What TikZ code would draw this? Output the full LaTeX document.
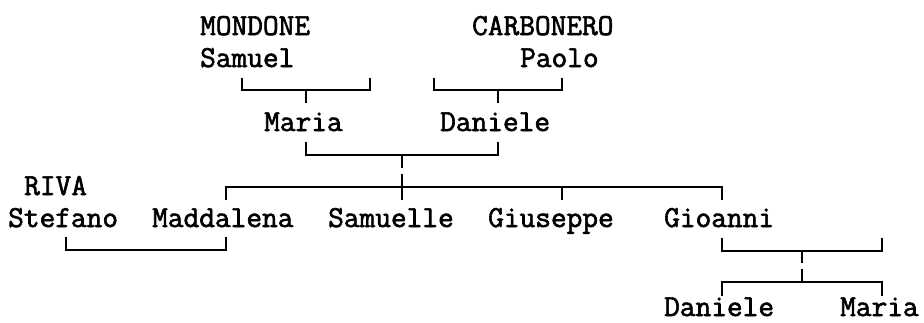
\documentclass[tikz,border=0pt]{standalone}
\usepackage{fontspec}
\newfontfamily\monobold[FakeBold=2]{Latin Modern Mono}
\begin{document}
\begin{tikzpicture}[x=1pt,y=-1pt,
  nm/.style={inner sep=0pt,anchor=base west,font=\fontsize{30.48}{32}\selectfont\monobold},
  ln/.style={line width=1.8pt,line cap=butt,line join=miter}]
\useasboundingbox[fill=white] (0,0) rectangle (924,322);
% column k -> x = 8+16k ; row r -> baseline 35+32r
\node[nm] (mondone) at (200,35) {MONDONE};
\node[nm] (samuel) at (200,67) {Samuel};
\node[nm] (carbonero) at (472,35) {CARBONERO};
\node[nm] (paolo) at (520,67) {Paolo};
\node[nm] (maria) at (264,131) {Maria};
\node[nm] (daniele) at (440,131) {Daniele};
\node[nm] (riva) at (24,195) {RIVA};
\node[nm] (stefano) at (8,227) {Stefano};
\node[nm] (maddalena) at (152,227) {Maddalena};
\node[nm] (samuelle) at (328,227) {Samuelle};
\node[nm] (giuseppe) at (488,227) {Giuseppe};
\node[nm] (gioanni) at (664,227) {Gioanni};
\node[nm] (daniele2) at (664,316) {Daniele};
\node[nm] (maria2) at (840,316) {Maria};
% Samuel -> Maria
\draw[ln] (242,78) -- (242,90) -- (370,90) -- (370,78);
\draw[ln] (306,90) -- (306,103);
% Paolo -> Daniele
\draw[ln] (434,78) -- (434,90) -- (562,90) -- (562,78);
\draw[ln] (498,90) -- (498,103);
% Maria + Daniele
\draw[ln] (306,142) -- (306,155) -- (498,155) -- (498,142);
\draw[ln] (402,155) -- (402,168);
% children
\draw[ln] (402,174) -- (402,200);
\draw[ln] (226,200) -- (226,187) -- (722,187) -- (722,200);
\draw[ln] (562,187) -- (562,200);
% Stefano + Maddalena
\draw[ln] (66,237) -- (66,250) -- (226,250) -- (226,237);
% Gioanni
\draw[ln] (722,238) -- (722,251) -- (882,251) -- (882,238);
\draw[ln] (802,251) -- (802,263);
\draw[ln] (802,269) -- (802,282);
\draw[ln] (722,296) -- (722,282) -- (882,282) -- (882,296);
\end{tikzpicture}
\end{document}
